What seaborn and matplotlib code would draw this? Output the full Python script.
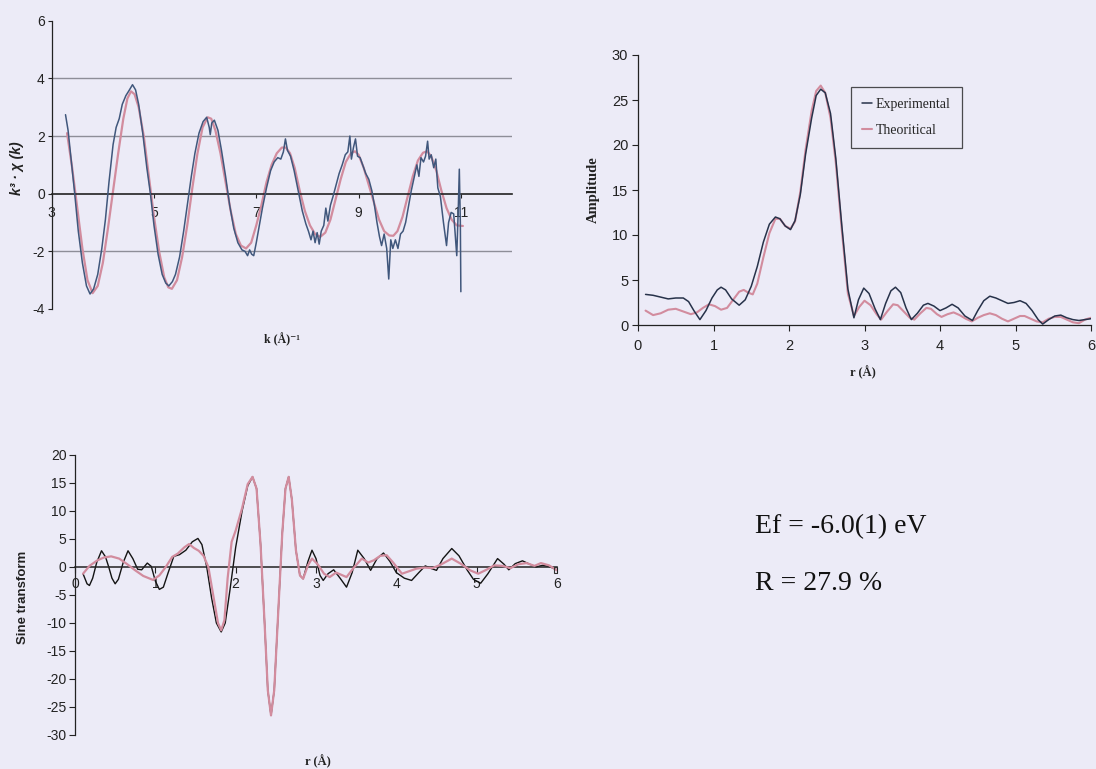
import matplotlib
matplotlib.use("Agg")
import matplotlib.pyplot as plt
import seaborn as sns

# ---------------------------------------------------------------
# k-space EXAFS, k^3-weighted
# ---------------------------------------------------------------
k_exp = [3.27, 3.32, 3.38, 3.45, 3.52, 3.60, 3.68, 3.75, 3.82, 3.90, 3.98, 4.05,
         4.12, 4.20, 4.26, 4.32, 4.38, 4.45, 4.52, 4.58, 4.64, 4.70, 4.78, 4.86,
         4.93, 5.00, 5.08, 5.16, 5.23, 5.29, 5.36, 5.42, 5.50, 5.58, 5.66, 5.73,
         5.80, 5.88, 5.96, 6.03, 6.08, 6.10, 6.13, 6.18, 6.25, 6.32, 6.40, 6.48,
         6.56, 6.64, 6.72, 6.78, 6.83, 6.87, 6.91, 6.95, 7.00, 7.06, 7.12, 7.20,
         7.28, 7.35, 7.42, 7.48, 7.53, 7.57, 7.61, 7.67, 7.74, 7.82, 7.90, 7.97,
         8.02, 8.07, 8.11, 8.15, 8.19, 8.23, 8.27, 8.32, 8.36, 8.40, 8.45, 8.50,
         8.56, 8.62, 8.68, 8.74, 8.79, 8.83, 8.86, 8.90, 8.94, 8.98, 9.03, 9.08,
         9.14, 9.20, 9.26, 9.31, 9.36, 9.41, 9.45, 9.50, 9.55, 9.59, 9.63, 9.67,
         9.72, 9.77, 9.82, 9.87, 9.92, 9.97, 10.03, 10.09, 10.14, 10.18, 10.22,
         10.27, 10.31, 10.35, 10.38, 10.42, 10.47, 10.51, 10.55, 10.60, 10.66,
         10.72, 10.76, 10.81, 10.86, 10.92, 10.95, 10.97, 10.99, 11.00]
chi_exp = [2.74, 2.2, 1.2, 0.0, -1.3, -2.4, -3.2, -3.48, -3.3, -2.8, -1.9, -0.9,
           0.4, 1.7, 2.3, 2.6, 3.1, 3.4, 3.6, 3.78, 3.6, 3.1, 2.1, 0.9,
           0.0, -1.1, -2.1, -2.8, -3.1, -3.2, -3.05, -2.8, -2.2, -1.3, -0.3, 0.6,
           1.4, 2.1, 2.5, 2.65, 2.3, 2.05, 2.45, 2.55, 2.2, 1.5, 0.6, -0.4,
           -1.2, -1.7, -1.95, -2.0, -2.15, -1.95, -2.1, -2.15, -1.7, -1.1, -0.5, 0.2,
           0.8, 1.1, 1.25, 1.2, 1.45, 1.9, 1.5, 1.3, 0.8, 0.1, -0.6, -1.05,
           -1.3, -1.6, -1.3, -1.7, -1.35, -1.75, -1.3, -1.1, -0.5, -0.95, -0.4, -0.1,
           0.3, 0.7, 1.0, 1.35, 1.45, 2.0, 1.2, 1.6, 1.9, 1.3, 1.25, 1.0,
           0.7, 0.5, 0.1, -0.4, -1.0, -1.5, -1.8, -1.4, -1.9, -2.96, -1.6, -1.9,
           -1.6, -1.9, -1.4, -1.3, -1.0, -0.5, 0.1, 0.6, 1.0, 0.6, 1.25,
           1.1, 1.3, 1.82, 1.2, 1.35, 0.9, 1.2, 0.2, -0.1, -1.0,
           -1.8, -1.0, -0.65, -0.7, -2.15, -0.5, 0.85, -1.0, -3.4]

k_theo = [3.30, 3.40, 3.50, 3.60, 3.70, 3.80, 3.90, 4.00, 4.10, 4.20, 4.30, 4.40,
          4.48, 4.55, 4.62, 4.70, 4.80, 4.90, 5.00, 5.10, 5.20, 5.28, 5.35, 5.45,
          5.55, 5.65, 5.75, 5.85, 5.95, 6.05, 6.12, 6.20, 6.30, 6.40, 6.50, 6.60,
          6.70, 6.80, 6.90, 7.00, 7.10, 7.20, 7.30, 7.40, 7.50, 7.58, 7.66, 7.75,
          7.85, 7.95, 8.05, 8.15, 8.25, 8.35, 8.45, 8.55, 8.65, 8.75, 8.85, 8.93,
          9.00, 9.10, 9.20, 9.30, 9.40, 9.50, 9.60, 9.68, 9.76, 9.86, 9.96, 10.06,
          10.16, 10.26, 10.34, 10.42, 10.52, 10.62, 10.72, 10.82, 10.92, 11.04]
chi_theo = [2.1, 0.9, -0.5, -1.9, -3.0, -3.45, -3.2, -2.4, -1.2, 0.1, 1.4, 2.6,
            3.3, 3.55, 3.45, 3.0, 2.0, 0.6, -0.8, -2.0, -2.9, -3.25, -3.3, -3.0,
            -2.2, -1.1, 0.2, 1.4, 2.3, 2.65, 2.6, 2.2, 1.4, 0.4, -0.6, -1.4,
            -1.8, -1.9, -1.7, -1.1, -0.4, 0.4, 1.0, 1.4, 1.6, 1.6, 1.4, 0.9,
            0.1, -0.6, -1.1, -1.4, -1.5, -1.35, -0.9, -0.2, 0.5, 1.1, 1.4, 1.47,
            1.35, 0.9, 0.3, -0.3, -0.9, -1.3, -1.45, -1.46, -1.3, -0.8, -0.1, 0.6,
            1.15, 1.42, 1.47, 1.3, 0.8, 0.1, -0.5, -0.9, -1.1, -1.12]

# ---------------------------------------------------------------
# Fourier transform amplitude
# ---------------------------------------------------------------
r_amp_exp = [0.10, 0.20, 0.30, 0.40, 0.50, 0.60, 0.67, 0.74, 0.82, 0.90, 0.98,
             1.05, 1.10, 1.16, 1.24, 1.34, 1.42, 1.50, 1.58, 1.66, 1.74, 1.82,
             1.88, 1.95, 2.02, 2.08, 2.15, 2.22, 2.30, 2.36, 2.42, 2.48, 2.55,
             2.62, 2.70, 2.78, 2.86, 2.92, 2.99, 3.06, 3.14, 3.21, 3.28, 3.35,
             3.41, 3.48, 3.55, 3.62, 3.70, 3.78, 3.84, 3.92, 4.00, 4.08, 4.16,
             4.24, 4.33, 4.43, 4.50, 4.58, 4.66, 4.74, 4.82, 4.90, 4.98, 5.06,
             5.14, 5.22, 5.30, 5.36, 5.44, 5.52, 5.60, 5.68, 5.76, 5.84, 5.92, 6.00]
amp_exp = [3.4, 3.3, 3.1, 2.9, 3.0, 3.0, 2.6, 1.6, 0.6, 1.6, 3.0,
           3.9, 4.2, 3.9, 2.9, 2.2, 2.8, 4.3, 6.5, 9.2, 11.2, 12.0,
           11.8, 11.0, 10.6, 11.6, 14.5, 19.0, 23.0, 25.5, 26.2, 25.8, 23.5,
           18.5, 11.0, 4.0, 0.8, 2.8, 4.1, 3.5, 1.8, 0.6, 2.4, 3.8,
           4.2, 3.6, 1.9, 0.6, 1.3, 2.2, 2.4, 2.1, 1.6, 1.9, 2.3,
           1.9, 1.0, 0.5, 1.6, 2.7, 3.2, 3.0, 2.7, 2.4, 2.5, 2.7,
           2.4, 1.6, 0.6, 0.1, 0.6, 1.0, 1.1, 0.8, 0.6, 0.5, 0.6, 0.7]

r_amp_theo = [0.10, 0.20, 0.30, 0.40, 0.50, 0.60, 0.70, 0.78, 0.86, 0.94, 1.02,
              1.10, 1.18, 1.26, 1.34, 1.40, 1.46, 1.52, 1.58, 1.66, 1.74, 1.82,
              1.88, 1.95, 2.02, 2.08, 2.15, 2.22, 2.30, 2.36, 2.42, 2.48, 2.55,
              2.62, 2.70, 2.78, 2.86, 2.93, 3.00, 3.08, 3.16, 3.22, 3.30, 3.38,
              3.44, 3.52, 3.60, 3.66, 3.74, 3.82, 3.88, 3.96, 4.02, 4.10, 4.18,
              4.26, 4.34, 4.42, 4.50, 4.58, 4.66, 4.74, 4.82, 4.90, 4.98, 5.06,
              5.12, 5.20, 5.28, 5.36, 5.44, 5.52, 5.60, 5.68, 5.76, 5.84, 5.92, 6.00]
amp_theo = [1.6, 1.1, 1.3, 1.7, 1.8, 1.5, 1.2, 1.4, 1.9, 2.3, 2.1,
            1.7, 1.9, 2.8, 3.7, 3.9, 3.6, 3.4, 4.6, 7.5, 10.2, 11.8,
            11.8, 11.0, 10.7, 11.5, 14.8, 19.5, 23.8, 26.0, 26.6, 25.8, 23.0,
            18.0, 10.5, 3.5, 1.0, 2.0, 2.7, 2.2, 1.2, 0.6, 1.5, 2.3,
            2.2, 1.5, 0.8, 0.6, 1.3, 1.9, 1.8, 1.2, 0.9, 1.2, 1.4,
            1.1, 0.7, 0.4, 0.8, 1.1, 1.3, 1.1, 0.7, 0.4, 0.7, 1.0,
            1.0, 0.7, 0.4, 0.3, 0.7, 0.9, 0.9, 0.6, 0.3, 0.2, 0.6, 0.8]

# ---------------------------------------------------------------
# Sine transform
# ---------------------------------------------------------------
r_sin_exp = [0.10, 0.15, 0.18, 0.22, 0.27, 0.33, 0.38, 0.42, 0.46, 0.50, 0.54,
             0.60, 0.66, 0.72, 0.78, 0.83, 0.90, 0.95, 1.00, 1.05, 1.10, 1.16,
             1.23, 1.30, 1.38, 1.46, 1.53, 1.58, 1.64, 1.70, 1.76, 1.82, 1.87,
             1.93, 2.00, 2.08, 2.15, 2.21, 2.26, 2.31, 2.36, 2.40, 2.44, 2.48,
             2.53, 2.58, 2.62, 2.66, 2.70, 2.75, 2.80, 2.84, 2.90, 2.95, 3.00,
             3.05, 3.09, 3.15, 3.22, 3.30, 3.38, 3.45, 3.52, 3.60, 3.68, 3.76,
             3.84, 3.92, 4.00, 4.10, 4.19, 4.28, 4.36, 4.44, 4.50, 4.58, 4.69,
             4.78, 4.88, 4.96, 5.05, 5.14, 5.26, 5.34, 5.40, 5.48, 5.57, 5.66,
             5.74, 5.82, 5.90, 6.00]
sin_exp = [-1.2, -3.0, -3.3, -2.0, 0.8, 2.9, 1.8, 0.0, -2.0, -3.0, -2.2,
           0.8, 2.9, 1.5, -0.4, -0.5, 0.7, 0.1, -2.5, -4.0, -3.6, -1.0,
           1.9, 2.2, 3.0, 4.5, 5.1, 4.0, 0.0, -5.5, -10.0, -11.6, -10.0,
           -4.0, 3.5, 10.0, 14.5, 16.1, 14.0, 4.0, -10.0, -22.0, -26.5, -22.0,
           -8.0, 6.0, 14.0, 16.1, 12.0, 3.0, -1.5, -2.1, 1.0, 3.0, 1.5,
           -1.5, -2.4, -1.2, -0.5, -2.0, -3.6, -1.0, 3.0, 1.5, -0.6, 1.5,
           2.5, 1.0, -1.0, -2.0, -2.4, -1.0, 0.2, -0.3, -0.6, 1.5, 3.3,
           2.0, -0.5, -2.2, -2.9, -1.2, 1.5, 0.5, -0.5, 0.6, 1.1, 0.5,
           0.0, 0.3, 0.1, -0.5]

r_sin_theo = [0.10, 0.18, 0.28, 0.36, 0.45, 0.55, 0.65, 0.75, 0.85, 0.97, 1.05,
              1.13, 1.21, 1.28, 1.36, 1.42, 1.48, 1.54, 1.60, 1.66, 1.72, 1.78,
              1.82, 1.86, 1.90, 1.95, 2.00, 2.08, 2.15, 2.21, 2.26, 2.31, 2.36,
              2.40, 2.44, 2.48, 2.53, 2.58, 2.62, 2.66, 2.70, 2.75, 2.80, 2.84,
              2.90, 2.95, 3.02, 3.10, 3.17, 3.25, 3.30, 3.38, 3.46, 3.57, 3.65,
              3.72, 3.80, 3.88, 3.96, 4.07, 4.15, 4.25, 4.35, 4.45, 4.55, 4.69,
              4.80, 4.92, 5.02, 5.12, 5.22, 5.32, 5.42, 5.52, 5.62, 5.72, 5.80,
              5.90, 6.00]
sin_theo = [-1.2, 0.2, 1.2, 1.7, 1.9, 1.5, 0.5, -0.6, -1.6, -2.3, -1.5,
            0.0, 1.8, 2.4, 3.5, 4.1, 3.4, 2.9, 2.0, 0.0, -5.0, -10.0,
            -11.3, -9.5, -2.0, 4.5, 6.5, 10.5, 14.8, 16.1, 14.0, 4.0, -10.0,
            -22.0, -26.5, -22.0, -8.0, 6.0, 14.0, 16.1, 12.0, 3.0, -1.5, -2.1,
            0.3, 1.5, 0.5, -1.2, -1.8, -1.0, -1.3, -1.8, -0.3, 1.5, 0.8,
            1.2, 2.0, 2.1, 0.8, -1.2, -0.8, -0.3, -0.1, -0.2, 0.4, 1.5,
            0.6, -0.6, -1.2, -0.5, 0.3, 0.2, -0.2, 0.5, 0.7, 0.2, 0.7,
            0.3, -0.6]

series_names = ["Experimental", "Theoritical"]
fit_results = ["Ef = -6.0(1) eV", "R = 27.9 %"]

# ---------------------------------------------------------------
# styling
# ---------------------------------------------------------------
sns.set_theme(style="white")
plt.rcParams["font.family"] = ["Liberation Sans", "DejaVu Sans"]
plt.rcParams["axes.linewidth"] = 0.9
plt.rcParams["axes.unicode_minus"] = False

BG = "#ecebf7"
EXP_BLUE = "#40577c"
EXP_DARK = "#27324a"
THEO = "#d28c9e"
AXIS = "#222222"
SERIF = ["Liberation Serif", "DejaVu Serif"]

W, H = 1096, 769
fig = plt.figure(figsize=(W / 100, H / 100), dpi=100, facecolor=BG)


def px_axes(left, top, right, bottom):
    ax = fig.add_axes([left / W, 1 - bottom / H, (right - left) / W, (bottom - top) / H])
    ax.set_facecolor("none")
    return ax


# ---------------------------------------------------------------
# k-space chi(k)
# ---------------------------------------------------------------
ax1 = px_axes(51.7, 20.7, 512, 309)
for yg in (4, 2, -2):
    ax1.axhline(yg, color="#8e8e98", lw=1.0, zorder=0)
sns.lineplot(x=k_theo, y=chi_theo, ax=ax1, color=THEO, lw=1.6, sort=False,
             estimator=None, zorder=2)
sns.lineplot(x=k_exp, y=chi_exp, ax=ax1, color=EXP_BLUE, lw=1.1, sort=False,
             estimator=None, zorder=3)
ax1.set_xlim(3, 12)
ax1.set_ylim(-4, 6)
ax1.set_xticks([3, 5, 7, 9, 11])
ax1.set_yticks([-4, -2, 0, 2, 4, 6])
for s in ("top", "right"):
    ax1.spines[s].set_visible(False)
ax1.spines["bottom"].set_position(("data", 0))
ax1.spines["bottom"].set_color(AXIS)
ax1.spines["bottom"].set_linewidth(1.2)
ax1.spines["left"].set_color(AXIS)
ax1.tick_params(axis="both", direction="out", length=3, width=0.8, colors=AXIS,
                labelsize=10, bottom=True, left=True)
ax1.tick_params(axis="x", pad=6)
ax1.tick_params(axis="y", pad=2)
ax1.set_ylabel("k³ · χ (k)", fontsize=10, fontweight="bold", fontstyle="italic",
               color=AXIS)
ax1.yaxis.set_label_coords(-0.060, 0.49)
ax1.set_xlabel("k (Å)⁻¹", fontsize=8.5, fontweight="bold", family=SERIF, color=AXIS)
ax1.xaxis.set_label_coords(0.50, -0.083)

# ---------------------------------------------------------------
# Fourier transform amplitude
# ---------------------------------------------------------------
ax2 = px_axes(638, 55, 1091, 325)
sns.lineplot(x=r_amp_theo, y=amp_theo, ax=ax2, color=THEO, lw=1.5, sort=False,
             estimator=None, label=series_names[1], zorder=2)
sns.lineplot(x=r_amp_exp, y=amp_exp, ax=ax2, color=EXP_DARK, lw=1.1, sort=False,
             estimator=None, label=series_names[0], zorder=3)
ax2.set_xlim(0, 6)
ax2.set_ylim(0, 30)
ax2.set_xticks(range(0, 7))
ax2.set_yticks(range(0, 31, 5))
for s in ("top", "right"):
    ax2.spines[s].set_visible(False)
for s in ("left", "bottom"):
    ax2.spines[s].set_color(AXIS)
ax2.tick_params(axis="both", direction="out", length=4, width=0.8, colors=AXIS,
                labelsize=10.5, bottom=True, left=True)
ax2.tick_params(axis="x", pad=6)
ax2.tick_params(axis="y", pad=3)
ax2.set_ylabel("Amplitude", fontsize=10.5, fontweight="bold", family=SERIF, color=AXIS)
ax2.yaxis.set_label_coords(-0.084, 0.5)
ax2.set_xlabel("r (Å)", fontsize=9, fontweight="bold", family=SERIF, color=AXIS)
ax2.xaxis.set_label_coords(0.497, -0.152)
handles, labels = ax2.get_legend_handles_labels()
order = [labels.index(n) for n in series_names]
leg = ax2.legend([handles[i] for i in order], [labels[i] for i in order],
                 loc="upper left", bbox_to_anchor=(0.47, 0.881), frameon=True,
                 fancybox=False, edgecolor=AXIS, facecolor="none",
                 prop={"family": SERIF, "size": 10}, handlelength=0.7,
                 handletextpad=0.3, borderpad=0.8, labelspacing=0.9,
                 borderaxespad=0)
leg.get_frame().set_linewidth(0.9)

# ---------------------------------------------------------------
# Sine transform
# ---------------------------------------------------------------
ax3 = px_axes(75, 455, 557, 735)
sns.lineplot(x=r_sin_theo, y=sin_theo, ax=ax3, color=THEO, lw=1.6, sort=False,
             estimator=None, zorder=3)
sns.lineplot(x=r_sin_exp, y=sin_exp, ax=ax3, color="#141414", lw=1.0, sort=False,
             estimator=None, zorder=2)
ax3.plot([r_sin_exp[-1]], [sin_exp[-1]], marker="s", ms=4, mfc="none", mec="#333333",
         mew=0.8, zorder=4)
ax3.set_xlim(0, 6)
ax3.set_ylim(-30, 20)
ax3.set_xticks(range(0, 7))
ax3.set_yticks(range(-30, 21, 5))
for s in ("top", "right"):
    ax3.spines[s].set_visible(False)
ax3.spines["bottom"].set_position(("data", 0))
ax3.spines["bottom"].set_color(AXIS)
ax3.spines["bottom"].set_linewidth(1.1)
ax3.spines["left"].set_color(AXIS)
ax3.tick_params(axis="both", direction="out", length=4, width=0.8, colors=AXIS,
                labelsize=10, bottom=True, left=True)
ax3.tick_params(axis="x", pad=3)
ax3.tick_params(axis="y", pad=2)
ax3.set_ylabel("Sine transform", fontsize=9.5, fontweight="bold", color=AXIS)
ax3.yaxis.set_label_coords(-0.095, 0.493)
ax3.set_xlabel("r (Å)", fontsize=9, fontweight="bold", family=SERIF, color=AXIS)
ax3.xaxis.set_label_coords(0.504, -0.072)

# ---------------------------------------------------------------
# fit parameters
# ---------------------------------------------------------------
fig.text(755 / W, 1 - 527 / H, fit_results[0], family=SERIF, fontsize=20,
         color="#111111", va="center", ha="left")
fig.text(755 / W, 1 - 583 / H, fit_results[1], family=SERIF, fontsize=20,
         color="#111111", va="center", ha="left")

fig.savefig("out.png", dpi=100, facecolor=BG)
